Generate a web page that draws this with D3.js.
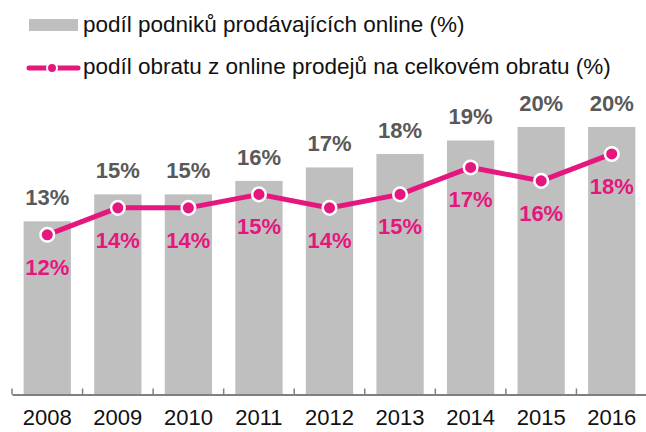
<!DOCTYPE html>
<html><head><meta charset="utf-8">
<script src="https://cdn.jsdelivr.net/npm/d3@7"></script>
<style>body{margin:0;background:#fff}svg{display:block;font-family:"Liberation Sans",Arial,sans-serif}</style>
</head><body><svg id="c" width="646" height="432"></svg>
<script>
const years = ["2008","2009","2010","2011","2012","2013","2014","2015","2016"];
const sharePodniku = [13,15,15,16,17,18,19,20,20];
const shareObratu = [12,14,14,15,14,15,17,16,18];
const legendLabels = ["podíl podniků prodávajících online (%)","podíl obratu z online prodejů na celkovém obratu (%)"];

const svg = d3.select("#c");
const x = d3.scaleBand().domain(years).range([12, 647]).paddingInner(0.33).paddingOuter(0.165);
const y = d3.scaleLinear().domain([0, 20]).range([396.5, 127]);
const gray = "#bfbfbf", pink = "#e5177e";
const axisY = 394.5;

// bars
svg.selectAll("rect.bar").data(years).join("rect").attr("class","bar")
  .attr("x", d => x(d)).attr("width", x.bandwidth())
  .attr("y", (d,i) => y(sharePodniku[i])).attr("height", (d,i) => axisY - y(sharePodniku[i]))
  .attr("fill", gray);

// axis
const ax = d3.axisBottom(x).tickSize(0).tickPadding(15);
const g = svg.append("g").attr("transform",`translate(0,${axisY})`).call(ax);
g.select(".domain").attr("stroke","#808080").attr("stroke-width",2);
g.selectAll("text").attr("font-size",22).attr("fill","#111").attr("font-family","Liberation Sans, Arial, sans-serif");
const step = x.step();
svg.selectAll("line.tk").data(d3.range(years.length)).join("line").attr("class","tk")
  .attr("x1", i => x(years[i]) - step*x.paddingInner()/2).attr("x2", i => x(years[i]) - step*x.paddingInner()/2)
  .attr("y1", axisY).attr("y2", axisY - 6).attr("stroke","#808080").attr("stroke-width",1.5);

// bar labels
svg.selectAll("text.bl").data(years).join("text").attr("class","bl")
  .attr("x", d => x(d) + x.bandwidth()/2).attr("y", (d,i) => y(sharePodniku[i]) - 16)
  .attr("text-anchor","middle").attr("font-size",22).attr("font-weight","bold").attr("fill","#595959")
  .text((d,i) => sharePodniku[i] + "%");

// line
const cx = d => x(d) + x.bandwidth()/2;
const line = d3.line().x((d,i) => cx(years[i])).y(d => y(d));
svg.append("path").datum(shareObratu).attr("d", line).attr("fill","none").attr("stroke",pink).attr("stroke-width",5);
svg.selectAll("circle.pt").data(shareObratu).join("circle").attr("class","pt")
  .attr("cx",(d,i) => cx(years[i])).attr("cy", d => y(d)).attr("r",6.8)
  .attr("fill",pink).attr("stroke","#fff").attr("stroke-width",2.5);
svg.selectAll("text.ll").data(shareObratu).join("text").attr("class","ll")
  .attr("x",(d,i) => cx(years[i])).attr("y", d => y(d) + 40)
  .attr("text-anchor","middle").attr("font-size",22).attr("font-weight","bold").attr("fill",pink)
  .text(d => d + "%");

// legend
svg.append("rect").attr("x",29).attr("y",19).attr("width",49).attr("height",12).attr("fill",gray);
svg.append("text").attr("x",83).attr("y",32).attr("font-size",22.5).attr("fill","#111").text(legendLabels[0]);
svg.append("line").attr("x1",29).attr("x2",78).attr("y1",68).attr("y2",68).attr("stroke",pink).attr("stroke-width",5).attr("stroke-linecap","round");
svg.append("circle").attr("cx",52).attr("cy",68).attr("r",5).attr("fill",pink).attr("stroke","#fff").attr("stroke-width",2);
svg.append("text").attr("x",83).attr("y",74).attr("font-size",22.5).attr("fill","#111").text(legendLabels[1]);
</script></body></html>
